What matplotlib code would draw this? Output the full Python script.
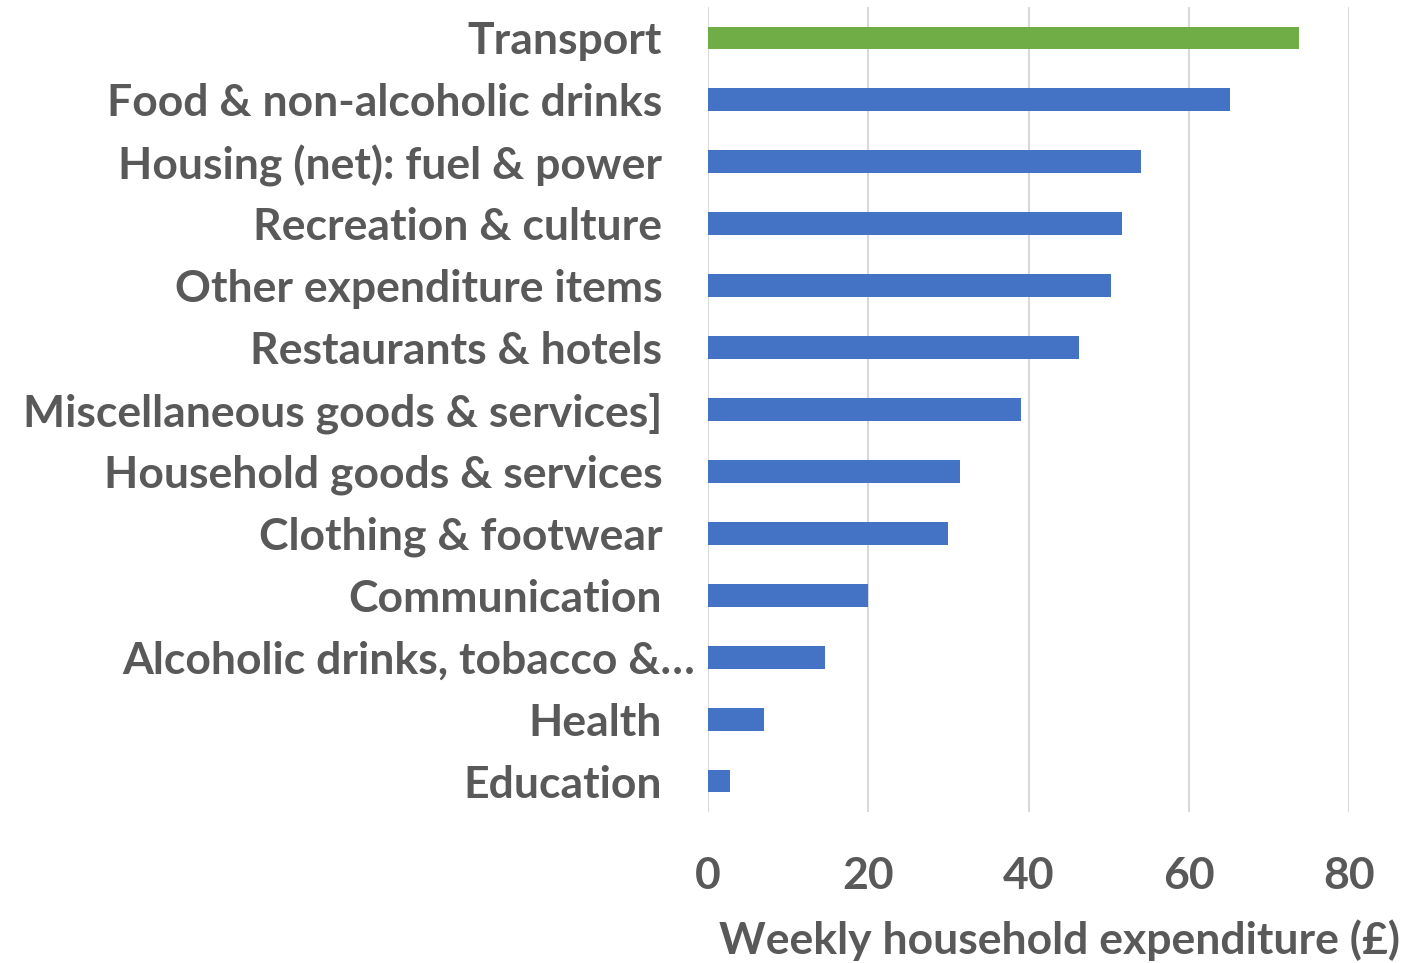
import matplotlib.pyplot as plt
from matplotlib.transforms import ScaledTranslation

# Weekly household expenditure by category (GBP), top to bottom
categories = [
    "Transport",
    "Food & non-alcoholic drinks",
    "Housing (net): fuel & power",
    "Recreation & culture",
    "Other expenditure items",
    "Restaurants & hotels",
    "Miscellaneous goods & services]",
    "Household goods & services",
    "Clothing & footwear",
    "Communication",
    "Alcoholic drinks, tobacco &\u2026",
    "Health",
    "Education",
]
spend = [73.8, 65.2, 54.1, 51.7, 50.3, 46.3, 39.1, 31.5, 30.0, 20.0, 14.6, 7.0, 2.8]
highlight = "Transport"

blue = "#4472C4"
green = "#70AD47"
grey = "#595959"

plt.rcParams['font.family'] = ['Lato', 'DejaVu Sans']
plt.rcParams['font.weight'] = 'bold'

fig = plt.figure(figsize=(14.27, 9.63), dpi=100)
ax = fig.add_axes([708 / 1427, 1 - 812 / 963, (1349 - 708) / 1427, (812 - 7) / 963])

ypos = list(range(len(categories)))
colors = [green if c == highlight else blue for c in categories]
ax.barh(ypos, spend, height=0.37, color=colors, zorder=3)

ax.set_xlim(0, 80)
ax.set_ylim(len(categories) - 0.5, -0.5)
ax.set_xticks([0, 20, 40, 60, 80])
ax.set_yticks(ypos)
ax.set_yticklabels(categories)

ax.grid(axis='x', color='#D9D9D9', linewidth=1.5, zorder=0)
for s in ax.spines.values():
    s.set_visible(False)
ax.tick_params(axis='both', length=0, colors=grey, labelsize=32)
ax.tick_params(axis='y', pad=33)
ax.tick_params(axis='x', pad=32)

# the truncated label sits further right, like in the original
for lab in ax.get_yticklabels():
    if lab.get_text().endswith("\u2026"):
        lab.set_transform(lab.get_transform() + ScaledTranslation(0.33, 0, fig.dpi_scale_trans))

ax.set_xlabel("Weekly household expenditure (\u00a3)", fontsize=32, color=grey,
              fontweight='bold')
ax.xaxis.set_label_coords(1.08, -0.159)
ax.xaxis.label.set_horizontalalignment('right')
ax.xaxis.label.set_verticalalignment('center')

fig.savefig("out.png", dpi=100)
